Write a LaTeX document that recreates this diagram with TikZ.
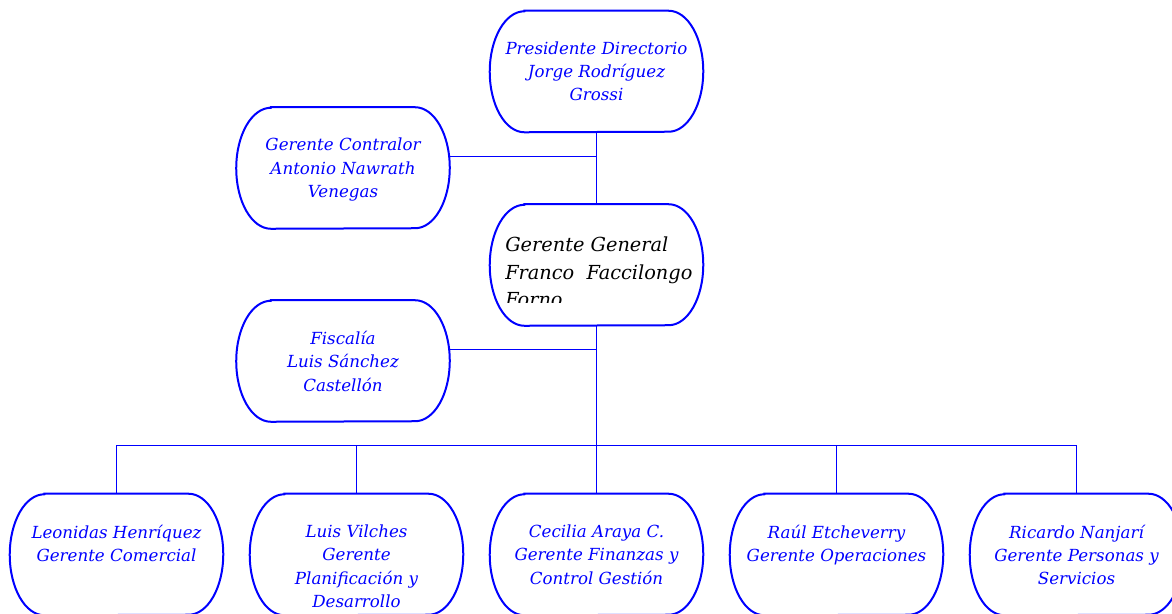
\documentclass[tikz,border=0pt]{standalone}
\usepackage{fontspec}
\setmainfont{DejaVu Serif}
\usetikzlibrary{positioning}
\tikzset{
  caja/.style={minimum width=159.75pt, minimum height=90.75pt, inner sep=0pt},
  borde/.style={draw=blue, line width=1.5pt},
  linea/.style={draw=blue, line width=0.75pt},
  texto/.style={text=blue, align=center, inner sep=0pt,
    font=\itshape\fontsize{12.5}{17.5}\selectfont}
}
\begin{document}
\begin{tikzpicture}[x=0.75pt, y=-0.75pt]
  \clip (0,0) rectangle (1172,614);
  % cajas
  \node[caja] (pres) at (596.5,71.5) {};
  \node[caja] (contr) at (343,168) {};
  \node[caja] (gg) at (596.5,265) {};
  \node[caja] (fisc) at (343,361) {};
  \node[caja] (com) at (116.5,554.5) {};
  \node[caja] (plan) at (356.5,554.5) {};
  \node[caja] (fin) at (596.5,554.5) {};
  \node[caja] (oper) at (836.5,554.5) {};
  \node[caja] (pers) at (1076.5,554.5) {};
  \foreach \n in {pres,contr,gg,fisc,com,plan,fin,oper,pers}
    \draw[borde] ([xshift=26pt]\n.north west) -- ([xshift=-26pt]\n.north east)
      arc[start angle=90, end angle=0, x radius=26pt, y radius=45.375pt]
      arc[start angle=0, end angle=-90, x radius=26pt, y radius=45.375pt]
      -- ([xshift=26pt]\n.south west)
      arc[start angle=270, end angle=180, x radius=26pt, y radius=45.375pt]
      arc[start angle=180, end angle=90, x radius=26pt, y radius=45.375pt]
      -- cycle;
  % textos
  \node[texto, below=23pt of pres.north] (prestxt) {Presidente Directorio\\Jorge Rodríguez\\Grossi};
  \node[texto, below=23pt of contr.north] (contrtxt) {Gerente Contralor\\Antonio Nawrath\\Venegas};
  \node[texto, below=23pt of fisc.north] (fisctxt) {Fiscalía\\Luis Sánchez\\Castellón};
  \node[texto, below=23pt of com.north] (comtxt) {Leonidas Henríquez\\Gerente Comercial};
  \node[texto, below=23pt of plan.north] (plantxt) {Luis Vilches\\Gerente\\Planificación y\\Desarrollo};
  \node[texto, below=23pt of fin.north] (fintxt) {Cecilia Araya C.\\Gerente Finanzas y\\Control Gestión};
  \node[texto, below=23pt of oper.north] (opertxt) {Raúl Etcheverry\\Gerente Operaciones};
  \node[texto, below=23pt of pers.north] (perstxt) {Ricardo Nanjarí\\Gerente Personas y\\Servicios};
  \begin{scope}
    \clip (490,204) rectangle (703,302);
    \node[anchor=north west, inner sep=0pt, align=left,
      font=\itshape\fontsize{14.5}{20.5}\selectfont] (ggtxt) at (505,237)
      {Gerente General\\Franco\ \ Faccilongo\\Forno};
  \end{scope}
  % conectores
  \draw[linea] (pres.south) -- (gg.north);
  \draw[linea] ([yshift=9pt]contr.east) coordinate (c1) -- (c1 -| pres.south);
  \draw[linea] ([yshift=9pt]fisc.east) coordinate (c2) -- (c2 -| gg.south);
  \draw[linea] (gg.south) -- (fin.north);
  \coordinate (bus) at (596.5,445);
  \draw[linea] (com.north) -- (com.north |- bus) -- (pers.north |- bus) -- (pers.north);
  \draw[linea] (plan.north) -- (plan.north |- bus);
  \draw[linea] (oper.north) -- (oper.north |- bus);
\end{tikzpicture}
\end{document}
